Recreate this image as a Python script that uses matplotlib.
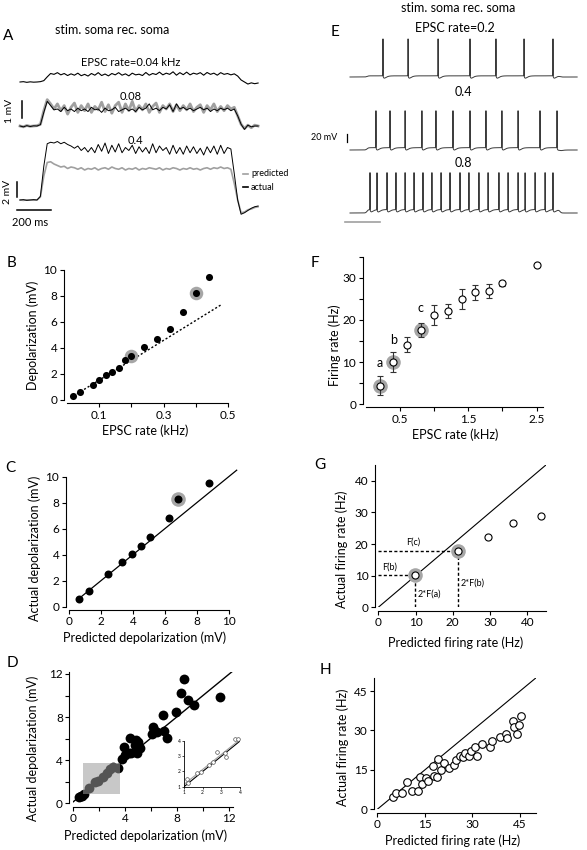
import numpy as np
import matplotlib
matplotlib.use("Agg")
import matplotlib.pyplot as plt
from matplotlib.patches import Rectangle

plt.rcParams['font.family'] = ['Lato', 'DejaVu Sans']

# ---------------- data ----------------
# A: voltage traces sampled every 20 ms (mV above rest)
a_t = np.arange(0, 1401, 20)
a_trace_004 = [0.0, 0.02, -0.02, 0.01, -0.01, 0.0, 0.02, 0.08, 0.3, 0.5,
               0.45, 0.55, 0.42, 0.5, 0.38, 0.48, 0.4, 0.52, 0.37, 0.45,
               0.35, 0.5, 0.4, 0.55, 0.38, 0.47, 0.36, 0.5, 0.42, 0.55,
               0.4, 0.48, 0.36, 0.52, 0.42, 0.46, 0.38, 0.56, 0.4, 0.5,
               0.44, 0.58, 0.42, 0.52, 0.45, 0.6, 0.4, 0.55, 0.43, 0.58,
               0.42, 0.52, 0.46, 0.55, 0.4, 0.56, 0.45, 0.52, 0.4, 0.55,
               0.45, 0.5, 0.42, 0.48, 0.35, 0.12, 0.0, -0.12, -0.05, -0.1,
               -0.06]
a_pred_008 = [0.0, -0.05, 0.03, -0.02, 0.0, 0.02, 0.1, 0.9, 1.55, 1.3,
              1.0, 1.3, 0.9, 1.2, 0.7, 1.1, 1.35, 0.8, 1.2, 0.9,
              1.3, 0.8, 1.15, 0.95, 1.4, 0.85, 1.25, 0.75, 1.2, 1.4,
              0.8, 1.3, 0.9, 1.45, 0.85, 1.2, 0.95, 1.3, 0.8, 1.15,
              1.35, 0.8, 1.2, 1.0, 1.3, 0.85, 1.25, 0.9, 1.2, 0.95,
              1.3, 0.85, 1.1, 1.25, 0.8, 1.2, 0.95, 1.3, 0.85, 1.15,
              0.9, 1.2, 1.0, 1.1, 0.6, 0.1, -0.15, 0.05, -0.1, 0.05,
              0.0]
a_act_008 = [0.0, -0.05, 0.02, -0.03, 0.01, 0.0, 0.08, 0.8, 1.45, 1.2,
             0.95, 1.0, 0.85, 1.1, 0.9, 1.0, 0.85, 1.05, 0.9, 1.0,
             0.85, 1.1, 0.95, 1.0, 0.8, 1.05, 0.9, 0.95, 1.1, 0.85,
             0.95, 1.05, 0.9, 1.0, 0.85, 1.1, 0.95, 1.05, 1.3, 0.95,
             1.05, 0.9, 1.1, 1.0, 1.25, 0.85, 1.3, 1.0, 1.1, 0.95,
             1.05, 0.9, 1.0, 1.1, 0.95, 1.05, 0.85, 1.0, 0.9, 1.05,
             0.95, 1.05, 0.9, 1.0, 0.6, 0.1, -0.2, 0.05, -0.05, 0.0,
             0.0]
a_act_04 = [0.0, 0.05, -0.05, 0.0, 0.05, 0.0, 0.5, 4.5, 7.5, 7.7,
            7.6, 7.8, 7.5, 7.7, 7.4, 7.2, 6.9, 7.2, 6.6, 7.0,
            6.4, 7.0, 6.3, 7.4, 6.5, 7.6, 6.2, 7.3, 6.4, 7.5,
            6.3, 7.0, 6.6, 7.3, 6.2, 7.1, 6.4, 7.0, 6.2, 7.5,
            6.3, 7.2, 6.6, 7.0, 6.1, 7.3, 6.2, 7.0, 6.1, 7.2,
            6.3, 7.1, 6.2, 6.9, 6.0, 7.1, 6.3, 7.2, 6.1, 7.3,
            6.2, 7.0, 6.8, 3.5, 0.0, -1.9, -1.7, -1.4, -1.1, -0.9,
            -0.8]
a_pred_04 = [0.0, -0.05, 0.02, 0.0, -0.03, 0.0, 0.4, 3.2, 5.0, 5.1,
             4.8, 4.6, 4.4, 4.5, 4.2, 4.4, 4.3, 4.1, 4.3, 4.0,
             4.2, 4.1, 4.3, 4.0, 4.2, 4.3, 4.1, 4.4, 4.2, 4.1,
             4.3, 4.0, 4.2, 4.1, 4.3, 4.0, 4.2, 4.1, 4.3, 4.2,
             4.1, 4.3, 4.0, 4.2, 4.1, 4.3, 4.2, 4.0, 4.2, 4.1,
             4.3, 4.1, 4.2, 4.0, 4.2, 4.3, 4.1, 4.3, 4.2, 4.4,
             4.2, 4.3, 4.1, 2.2, 0.0, -1.7, -1.6, -1.3, -1.2, -1.0,
             -0.9]

# E: spike times (ms) for EPSC rate 0.2, 0.4, 0.8
e_spikes_02 = [188, 331, 502, 684, 832, 992, 1157]
e_spikes_04 = [148, 228, 314, 410, 490, 587, 684, 775, 866, 958, 1083, 1180]
e_spikes_08 = [114, 154, 211, 262, 314, 365, 416, 467, 519, 570, 627, 678,
               735, 787, 849, 901, 958, 998, 1055, 1112, 1157]
e_depol = [3, 6, 9]
e_rest = -65
e_stim = (97, 1197)

# B
b_rate = [0.02, 0.04, 0.08, 0.10, 0.12, 0.14, 0.16, 0.18, 0.20, 0.24, 0.28,
          0.32, 0.36, 0.40, 0.44]
b_depol = [0.33, 0.64, 1.15, 1.56, 1.9, 2.13, 2.5, 3.1, 3.4, 4.05, 4.7,
           5.44, 6.8, 8.2, 9.5]
b_highlight = [0.20, 0.40]
b_slope = 15.3
b_line_x = [0.02, 0.48]

# F
f_rate = [0.2, 0.4, 0.6, 0.8, 1.0, 1.2, 1.4, 1.6, 1.8, 2.0, 2.5]
f_fr = [4.4, 10.1, 14.1, 17.6, 21.2, 22.1, 25.0, 26.6, 26.9, 28.7, 33.1]
f_err = [2.2, 2.4, 1.8, 1.7, 2.4, 1.6, 2.3, 1.8, 1.75, 0.7, 0.0]
f_marked = [0, 1, 3]
f_letters = ['a', 'b', 'c']

# C
c_pred = [0.64, 1.27, 2.42, 3.29, 3.94, 4.48, 5.06, 6.25, 6.83, 8.77]
c_act = [0.59, 1.18, 2.49, 3.44, 4.08, 4.69, 5.38, 6.8, 8.31, 9.54]
c_highlight = 8

# G
g_pred = [9.8, 21.4, 29.5, 36.3, 43.6]
g_act = [10.1, 17.7, 22.2, 26.8, 28.9]

# D
d_pred = [0.45, 0.6, 0.7, 0.9, 1.27, 1.7, 1.95, 2.35, 2.6, 2.85, 3.1, 3.45,
          3.8, 3.9, 4.0, 4.3, 4.4, 4.5, 4.75, 4.85, 4.9, 5.0, 5.15, 6.05,
          6.15, 6.2, 6.45, 6.9, 7.0, 7.2, 7.9, 8.3, 8.5, 8.8, 9.3, 11.3]
d_act = [0.6, 0.65, 0.7, 0.9, 1.4, 2.0, 2.05, 2.45, 2.85, 3.2, 3.35, 3.3,
         4.15, 5.2, 4.5, 4.7, 6.1, 4.65, 5.4, 5.9, 4.7, 5.7, 5.1, 6.4,
         7.1, 6.8, 6.6, 8.2, 6.7, 6.1, 8.5, 10.2, 11.5, 9.6, 9.1, 9.9]
d_box = (0.8, 0.9, 3.6, 3.75)
d_in_pred = [1.14, 1.23, 1.68, 1.89, 2.36, 2.54, 2.75, 3.2, 3.25, 3.73, 3.91]
d_in_act = [1.48, 1.22, 1.88, 1.99, 2.43, 2.64, 3.3, 3.2, 2.97, 4.12, 4.12]
d_in_fit = ([1.0, 4.0], [1.15, 4.1])

# H
h_pred = [5.05, 5.9, 7.9, 9.5, 10.9, 12.8, 13.5, 14.0, 15.4, 16.1, 17.5, 17.9,
          18.7, 19.0, 20.1, 21.1, 22.7, 24.3, 24.7, 26.1, 27.1, 27.8, 29.0,
          29.6, 30.8, 31.5, 33.1, 35.6, 36.3, 38.7, 40.6, 41.0, 42.9, 43.1,
          43.9, 44.7, 45.4]
h_act = [4.57, 6.1, 6.1, 10.3, 7.1, 7.1, 12.2, 9.5, 12.1, 10.6, 16.6, 12.7,
         12.2, 19.0, 15.0, 17.7, 15.6, 16.8, 18.8, 20.1, 19.8, 21.3, 20.4,
         22.1, 23.6, 20.3, 24.8, 23.8, 26.1, 27.6, 28.6, 27.1, 33.7, 31.2,
         28.6, 32.2, 35.5]

# ---------------- figure ----------------
W, H = 587, 850
fig = plt.figure(figsize=(W / 100, H / 100), dpi=100)
GRAY = '#a0a0a0'
HALO = '#a6a6a6'
LAB = 9      # axis label size
TICK = 8.5   # tick label size


def px_axes(x0, y0, x1, y1):
    return fig.add_axes([x0 / W, 1 - y1 / H, (x1 - x0) / W, (y1 - y0) / H])


def ftext(x, y, s, **kw):
    kw.setdefault('ha', 'center')
    kw.setdefault('va', 'center')
    fig.text(x / W, 1 - y / H, s, **kw)


def style(ax, xlim, ylim, xticks, xlabels, yticks, ylabels):
    ax.set_xlim(*xlim)
    ax.set_ylim(*ylim)
    for s in ['top', 'right']:
        ax.spines[s].set_visible(False)
    for s in ['left', 'bottom']:
        ax.spines[s].set_position(('outward', 2.5))
        ax.spines[s].set_linewidth(0.8)
    ax.spines['bottom'].set_bounds(*xlim)
    ax.spines['left'].set_bounds(*ylim)
    ax.set_xticks(xticks)
    ax.set_xticklabels(xlabels)
    ax.set_yticks(yticks)
    ax.set_yticklabels(ylabels)
    ax.tick_params(length=3, width=0.8, labelsize=TICK, pad=1.5)
    ax.patch.set_visible(False)


# ---- A ----
T_PER_PX = 5.88
axA1 = px_axes(0, 60, 290, 133)
axA1.axis('off')
axA1.set_xlim(-20 * T_PER_PX, 270 * T_PER_PX)
axA1.set_ylim(-(133 - 126) / 17, (126 - 60) / 17)
off1 = (126 - 82) / 17
axA1.plot(a_t, np.array(a_trace_004) + off1, color='k', lw=0.8)
axA1.plot(a_t, a_pred_008, color=GRAY, lw=2.0)
axA1.plot(a_t, a_act_008, color='k', lw=0.7)
axA1.plot([1.7 * T_PER_PX] * 2, [0.5, 1.5], color='k', lw=1.1)

axA2 = px_axes(0, 135, 290, 222)
axA2.axis('off')
axA2.set_xlim(-20 * T_PER_PX, 270 * T_PER_PX)
axA2.set_ylim(-(222 - 200) / 7.5, (200 - 135) / 7.5)
axA2.plot(a_t, a_pred_04, color=GRAY, lw=1.2)
axA2.plot(a_t, a_act_04, color='k', lw=0.7)
axA2.plot([-3.3 * T_PER_PX] * 2, [0.4, 2.4], color='k', lw=1.1)
axA2.plot([-3 * T_PER_PX, -3 * T_PER_PX + 200], [-1.33, -1.33], color='k', lw=1.1)

ftext(8, 36, 'A', fontsize=11)
ftext(112, 30, 'stim. soma rec. soma', fontsize=9)
ftext(131, 62, 'EPSC rate=0.04 kHz', fontsize=8)
ftext(131, 97, '0.08', fontsize=8)
ftext(135, 140, '0.4', fontsize=8)
ftext(10, 111, '1 mV', fontsize=7.5, rotation=90)
ftext(7, 192, '2 mV', fontsize=7.5, rotation=90)
ftext(30, 222, '200 ms', fontsize=8)
fig.add_artist(plt.Line2D([243 / W, 248 / W], [1 - 174 / H] * 2, color=GRAY, lw=1.2))
fig.add_artist(plt.Line2D([243 / W, 248 / W], [1 - 187 / H] * 2, color='k', lw=1.2))
ftext(251, 174, 'predicted', fontsize=6.5, ha='left')
ftext(251, 187, 'actual', fontsize=6.5, ha='left')

# ---- E ----
E_T_PER_PX = 5.7
E_MV_PER_PX = 2.6
axE = px_axes(330, 0, 587, 235)
axE.axis('off')
axE.set_xlim(-20 * E_T_PER_PX, 237 * E_T_PER_PX)
axE.set_ylim(e_rest - 22 * E_MV_PER_PX, e_rest + 213 * E_MV_PER_PX)
tt = np.arange(0, 1295, 0.25)
stim = 0.25 * (1 + np.tanh((tt - e_stim[0]) / 8)) * (1 - np.tanh((tt - e_stim[1]) / 8))
offsets = [136 * E_MV_PER_PX, 63 * E_MV_PER_PX, 0]
for spikes, dep, off in zip([e_spikes_02, e_spikes_04, e_spikes_08], e_depol, offsets):
    v = e_rest + off + dep * stim
    for ts in spikes:
        dt = tt - ts
        v = v + 96 * np.exp(-(dt / 0.7) ** 2)
        pos = np.clip(dt, 0, None)
        v = v - 6 * (pos / 8) * np.exp(1 - pos / 8)
    axE.plot(tt, v, color='#3a3a3a', lw=0.7)
axE.plot([-3 * E_T_PER_PX] * 2, [e_rest + 71 * E_MV_PER_PX, e_rest + 71 * E_MV_PER_PX + 20],
         color='k', lw=0.9)
axE.plot([-5 * E_T_PER_PX, 30 * E_T_PER_PX], [e_rest - 9 * E_MV_PER_PX] * 2, color=GRAY, lw=1.2)
ftext(335, 32, 'E', fontsize=11)
ftext(458, 8, 'stim. soma rec. soma', fontsize=9)
ftext(455, 28, 'EPSC rate=0.2', fontsize=9)
ftext(463, 92, '0.4', fontsize=9)
ftext(463, 163, '0.8', fontsize=9)
ftext(337, 138, '20 mV', fontsize=6.5, ha='right')

# ---- B ----
axB = px_axes(67, 270, 228, 400)
style(axB, (0, 0.5), (0, 10), [0.1, 0.2, 0.3, 0.4, 0.5], ['0.1', '', '0.3', '', '0.5'],
      range(0, 11, 2), [str(v) for v in range(0, 11, 2)])
axB.plot(b_line_x, [b_slope * x for x in b_line_x], color='k', lw=1.0, ls=(0, (1.5, 1.5)))
hl = [b_depol[b_rate.index(r)] for r in b_highlight]
axB.scatter(b_highlight, hl, s=95, color=HALO, zorder=3, clip_on=False, linewidths=0)
axB.scatter(b_rate, b_depol, s=26, color='k', zorder=4, clip_on=False, linewidths=0)
ftext(12, 263, 'B', fontsize=11)
ftext(33, 335, 'Depolarization (mV)', fontsize=LAB, rotation=90)
ftext(145, 431, 'EPSC rate (kHz)', fontsize=LAB)

# ---- F ----
axF = px_axes(366, 257, 543.4, 404)
style(axF, (0, 2.6), (0, 35), [0.5, 1.0, 1.5, 2.0, 2.5], ['0.5', '', '1.5', '', '2.5'],
      range(0, 36, 5), ['0', '', '10', '', '20', '', '30', ''])
mx = [f_rate[i] for i in f_marked]
my = [f_fr[i] for i in f_marked]
axF.scatter(mx, my, s=110, color=HALO, zorder=2, clip_on=False, linewidths=0)
axF.errorbar(f_rate, f_fr, yerr=f_err, fmt='none', ecolor='#333333', elinewidth=0.8,
             capsize=2.5, capthick=0.8, zorder=3)
axF.scatter(f_rate, f_fr, s=26, facecolor='white', edgecolor='k', linewidths=0.8,
            zorder=4, clip_on=False)
for lab, x, y in zip(f_letters, mx, my):
    axF.annotate(lab, (x, y), xytext=(0, 13), textcoords='offset points', ha='center',
                 fontsize=9)
ftext(315, 263, 'F', fontsize=11)
ftext(335, 345, 'Firing rate (Hz)', fontsize=LAB, rotation=90)
ftext(455, 435, 'EPSC rate (kHz)', fontsize=LAB)

# ---- C ----
axC = px_axes(69, 476.7, 228.7, 606.7)
style(axC, (0, 10), (0, 10), range(0, 11, 2), [str(v) for v in range(0, 11, 2)],
      range(0, 11, 2), [str(v) for v in range(0, 11, 2)])
axC.plot([0.5, 10.5], [0.5, 10.5], color='k', lw=0.9, clip_on=False)
axC.scatter([c_pred[c_highlight]], [c_act[c_highlight]], s=110, color=HALO, zorder=3,
            linewidths=0, clip_on=False)
axC.scatter(c_pred, c_act, s=33, color='k', zorder=4, linewidths=0, clip_on=False)
ftext(10, 468, 'C', fontsize=11)
ftext(35, 548, 'Actual depolarization (mV)', fontsize=LAB, rotation=90)
ftext(145, 638, 'Predicted depolarization (mV)', fontsize=LAB)

# ---- G ----
axG = px_axes(378.3, 465, 545.9, 607.3)
style(axG, (0, 45), (0, 45), range(0, 41, 10), [str(v) for v in range(0, 41, 10)],
      range(0, 41, 10), [str(v) for v in range(0, 41, 10)])
axG.plot([0, 45], [0, 45], color='k', lw=0.8)
dash = (0, (2.2, 1.6))
for x, y in zip(g_pred[:2], g_act[:2]):
    axG.plot([0, x], [y, y], color='k', lw=1.0, ls=dash)
    axG.plot([x, x], [0, y], color='k', lw=1.0, ls=dash)
axG.scatter(g_pred[:2], g_act[:2], s=110, color=HALO, zorder=3, linewidths=0)
axG.scatter(g_pred, g_act, s=26, facecolor='white', edgecolor='k', linewidths=0.8,
            zorder=4, clip_on=False)
ftext(412.7, 541.7, 'F(c)', fontsize=6.5)
ftext(390, 566.7, 'F(b)', fontsize=6.5)
ftext(418, 594, '2*F(a)', fontsize=6.5, ha='left')
ftext(461, 583, '2*F(b)', fontsize=6.5, ha='left')
ftext(320, 465, 'G', fontsize=11)
ftext(342, 549, 'Actual firing rate (Hz)', fontsize=LAB, rotation=90)
ftext(456, 643, 'Predicted firing rate (Hz)', fontsize=LAB)

# ---- D ----
axD = px_axes(72.7, 671.8, 233.2, 803.3)
style(axD, (0, 12.3), (0, 12.2), range(0, 13, 2), ['0', '', '4', '', '8', '', '12'],
      range(0, 13, 2), ['0', '', '4', '', '8', '', '12'])
axD.plot([0, 12.2], [0.1, 12.2], color='k', lw=1.0, zorder=2)
axD.scatter(d_pred, d_act, s=50, color='k', zorder=3, linewidths=0, clip_on=False)
bx0, by0, bx1, by1 = d_box
axD.add_patch(Rectangle((bx0, by0), bx1 - bx0, by1 - by0, facecolor='#9b9b9b',
                        alpha=0.55, edgecolor='none', zorder=5))
ftext(12, 663, 'D', fontsize=11)
ftext(33, 748, 'Actual depolarization (mV)', fontsize=LAB, rotation=90)
ftext(146, 836, 'Predicted depolarization (mV)', fontsize=LAB)

axI = px_axes(184, 741, 240, 786.7)
axI.set_xlim(1, 4)
axI.set_ylim(1, 4)
for s in ['top', 'right']:
    axI.spines[s].set_visible(False)
for s in ['left', 'bottom']:
    axI.spines[s].set_linewidth(0.6)
axI.set_xticks([1, 2, 3, 4])
axI.set_yticks([1, 2, 3, 4])
axI.tick_params(length=1.5, width=0.5, labelsize=3.5, pad=0.8)
axI.plot([1, 4], [1, 4], color='k', lw=0.8)
axI.plot(d_in_fit[0], d_in_fit[1], color=GRAY, lw=0.8)
axI.scatter(d_in_pred, d_in_act, s=7, facecolor='white', edgecolor='#555555',
            linewidths=0.5, zorder=3, clip_on=False)
axI.patch.set_visible(False)

# ---- H ----
axH = px_axes(377.3, 677.9, 535.9, 809.3)
style(axH, (0, 50), (0, 50), [0, 15, 30, 45], ['0', '15', '30', '45'],
      [0, 15, 30, 45], ['0', '15', '30', '45'])
axH.plot([0, 50], [0, 50], color='k', lw=0.8)
axH.scatter(h_pred, h_act, s=30, facecolor='white', edgecolor='k', linewidths=0.8,
            zorder=4, clip_on=False)
ftext(325, 670, 'H', fontsize=11)
ftext(343, 747, 'Actual firing rate (Hz)', fontsize=LAB, rotation=90)
ftext(453, 841, 'Predicted firing rate (Hz)', fontsize=LAB)

fig.savefig('out.png', dpi=100, facecolor='white')
